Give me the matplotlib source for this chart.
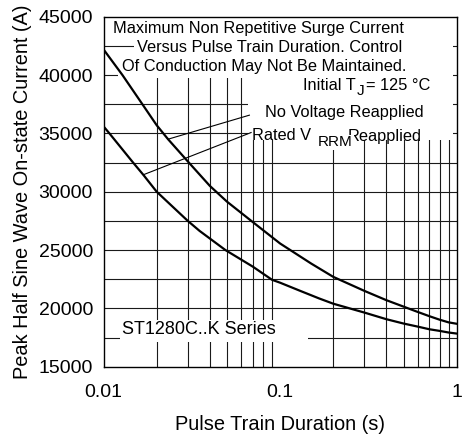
import matplotlib
matplotlib.use('Agg')
import matplotlib.pyplot as plt
from matplotlib.patches import Rectangle
from matplotlib.ticker import NullLocator

plt.rcParams['font.family'] = ['Liberation Sans', 'DejaVu Sans']

# ---------------- data ----------------
no_voltage_x = [0.01, 0.0128, 0.0166, 0.02, 0.0232, 0.03, 0.04, 0.05, 0.07, 0.1,
                0.15, 0.2, 0.3, 0.4, 0.5, 0.6, 0.7, 0.8, 0.9, 1.0]
no_voltage_y = [42200, 40000, 37500, 35700, 34500, 32600, 30500, 29150, 27400, 25560,
                23840, 22700, 21500, 20700, 20150, 19700, 19330, 19030, 18800, 18680]

rated_x = [0.01, 0.0108, 0.0147, 0.0168, 0.02, 0.03, 0.035, 0.049, 0.07, 0.09, 0.1,
           0.13, 0.1664, 0.2, 0.3, 0.4, 0.5, 0.6, 0.7, 0.8, 0.9, 1.0]
rated_y = [35600, 35000, 32500, 31450, 30000, 27500, 26640, 25000, 23580, 22450, 22200,
           21500, 20850, 20400, 19640, 19070, 18700, 18440, 18210, 18070, 17930, 17840]

ptr_a_x = [0.0232, 0.0670]
ptr_a_y = [34500, 36560]
ptr_b_x = [0.0168, 0.0685]
ptr_b_y = [31450, 35070]

x_ticks = [0.01, 0.1, 1]
x_ticklabels = ['0.01', '0.1', '1']
y_ticks = [15000, 20000, 25000, 30000, 35000, 40000, 45000]
y_ticklabels = ['15000', '20000', '25000', '30000', '35000', '40000', '45000']
x_grid = [0.02, 0.03, 0.04, 0.05, 0.06, 0.07, 0.08, 0.09,
          0.2, 0.3, 0.4, 0.5, 0.6, 0.7, 0.8, 0.9]
y_grid = [17500, 20000, 22500, 25000, 27500, 30000, 32500, 35000, 37500, 40000, 42500]

title_lines = ['Maximum Non Repetitive Surge Current',
               'Versus Pulse Train Duration. Control',
               'Of Conduction May Not Be Maintained.']
xlabel = 'Pulse Train Duration (s)'
ylabel = 'Peak Half Sine Wave On-state Current (A)'

# ---------------- layout ----------------
W, H = 462, 434
L, R, T, B = 103.5, 456.7, 16.7, 366.7
fig = plt.figure(figsize=(W / 100, H / 100), dpi=100)
ax = fig.add_axes([L / W, 1 - B / H, (R - L) / W, (B - T) / H])
ax.set_xscale('log')
ax.set_xlim(0.01, 1)
ax.set_ylim(15000, 45000)


def axf(px, py):
    return (px - L) / (R - L), (B - py) / (B - T)


def white_rect(x0, y0, x1, y1):
    fx0, fy1 = axf(x0, y0)
    fx1, fy0 = axf(x1, y1)
    ax.add_patch(Rectangle((fx0, fy0), fx1 - fx0, fy1 - fy0, transform=ax.transAxes,
                           facecolor='white', edgecolor='none', zorder=2))


# grid
for gx in x_grid:
    ax.axvline(gx, color='#1a1a1a', lw=0.8, zorder=1)
for gy in y_grid:
    ax.axhline(gy, color='#1a1a1a', lw=0.8, zorder=1)

# white label areas
white_rect(110, 18, 453, 37)
white_rect(134, 37, 453, 56)
white_rect(118, 56, 453, 78)
white_rect(248, 78, 453, 140)
white_rect(120, 320, 308, 342)

# curves
ax.plot(no_voltage_x, no_voltage_y, color='black', lw=1.6, zorder=3)
ax.plot(rated_x, rated_y, color='black', lw=1.6, zorder=3)
ax.plot(ptr_a_x, ptr_a_y, color='black', lw=0.8, zorder=3)
ax.plot(ptr_b_x, ptr_b_y, color='black', lw=0.8, zorder=3)

# texts
fs = 11.8
def put(px, py, s, size=fs, **kw):
    fx, fy = axf(px, py)
    return ax.text(fx, fy, s, transform=ax.transAxes, fontsize=size,
                   ha='left', va='center', zorder=4, **kw)

put(113, 28, title_lines[0])
put(136.7, 47.5, title_lines[1])
put(121.7, 67, title_lines[2])
put(303, 86, 'Initial T')
put(357, 91, 'J', size=11)
put(366, 86, '= 125 \u00b0C')
put(265, 112.5, 'No Voltage Reapplied')
put(252, 136, 'Rated V')
put(348, 136, 'Reapplied')
put(318, 142.5, 'RRM', size=11,
    bbox=dict(boxstyle='square,pad=0.05', fc='white', ec='none')).set_zorder(5)
put(121.7, 330, 'ST1280C..K Series', size=13)

# axes styling
ax.set_xticks(x_ticks)
ax.set_xticklabels(x_ticklabels)
ax.xaxis.set_minor_locator(NullLocator())
ax.set_yticks(y_ticks)
ax.set_yticklabels(y_ticklabels)
ax.tick_params(axis='both', length=0, labelsize=14, colors='black')
ax.tick_params(axis='x', pad=12.4)
ax.tick_params(axis='y', pad=7.5)
for sp in ax.spines.values():
    sp.set_linewidth(1.0)
    sp.set_color('black')
    sp.set_zorder(6)

ax.set_xlabel(xlabel, fontsize=14.4, va='center')
ax.xaxis.set_label_coords(0.5, axf(0, 425)[1])
ax.set_ylabel(ylabel, fontsize=14.4, va='center')
ax.yaxis.set_label_coords(axf(22.5, 0)[0], 0.5)

fig.savefig('out.png', dpi=100)
